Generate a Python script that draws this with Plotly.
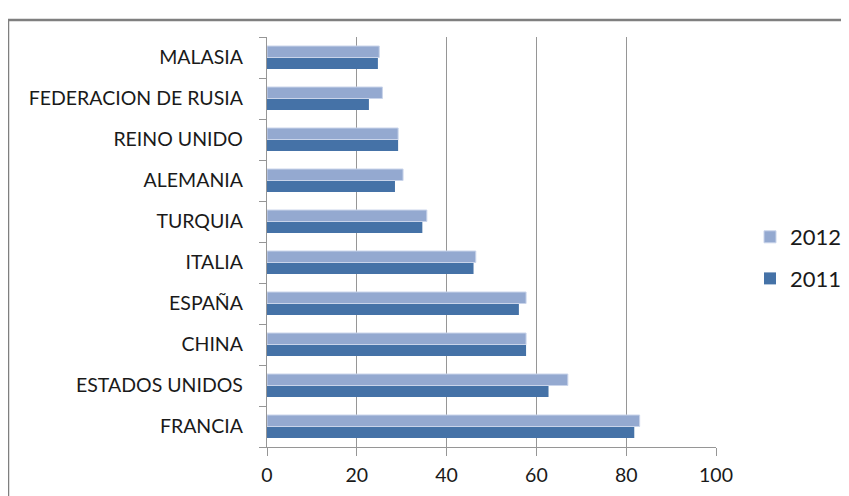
import plotly.graph_objects as go

categories = ["FRANCIA", "ESTADOS UNIDOS", "CHINA", "ESPAÑA", "ITALIA",
              "TURQUIA", "ALEMANIA", "REINO UNIDO", "FEDERACION DE RUSIA", "MALASIA"]
values_2011 = [81.8, 62.7, 57.7, 56.1, 46.0, 34.6, 28.5, 29.2, 22.7, 24.7]
values_2012 = [83.0, 67.0, 57.7, 57.7, 46.5, 35.6, 30.3, 29.2, 25.7, 25.0]
x_ticks = [0, 20, 40, 60, 80, 100]

FONT = "Lato"
GRID = "#969696"
TXT = "#1a1a1a"

# page body has an 8px default margin; work in page coords and offset
OFF = 8
FW, FH = 849 - OFF, 496 - OFF

fig = go.Figure()
fig.add_trace(go.Bar(y=categories, x=values_2011, orientation="h", name="2011",
                     legendrank=2, legendgroup="g2011",
                     marker=dict(color="#4572A7", line=dict(width=0))))
fig.add_trace(go.Bar(y=categories, x=values_2012, orientation="h", name="2012",
                     legendrank=1, legendgroup="g2012",
                     marker=dict(color="#94A9D0", line=dict(color="#C9D4EA", width=1))))

L, T = 267, 37
W, H = 449, 410
def px(x):
    return (x - L) / W
def py(y):
    return (T + H - y) / H

fig.update_layout(
    width=FW, height=FH,
    margin=dict(l=L - OFF, r=849 - L - W, t=T - OFF, b=496 - T - H),
    paper_bgcolor="white", plot_bgcolor="white",
    barmode="group", bargap=0.44, bargroupgap=0,
    font=dict(family=FONT, size=19, color=TXT),
    showlegend=True,
    legend=dict(traceorder="grouped", tracegroupgap=10,
                xref="container", yref="container",
                x=(750 - OFF) / FW, xanchor="left",
                y=1 - (258 - OFF) / FH, yanchor="middle",
                font=dict(family=FONT, size=22, color=TXT),
                itemwidth=30, bgcolor="rgba(0,0,0,0)"),
    xaxis=dict(range=[0, 100], tickvals=x_ticks, showgrid=True, gridcolor=GRID,
               gridwidth=1.3, showline=True, linecolor=GRID, linewidth=1.3,
               ticks="outside", ticklen=8, tickcolor=GRID, tickwidth=1.3,
               zeroline=False, ticklabelstandoff=2, automargin=False,
               tickfont=dict(family=FONT, size=19.5, color=TXT)),
    yaxis=dict(showline=True, linecolor=GRID, linewidth=1.3, ticks="outside",
               tickson="boundaries", ticklen=7, tickcolor=GRID, tickwidth=1.3,
               showgrid=False, ticklabelstandoff=19, automargin=False,
               tickfont=dict(family=FONT, size=19.5, color=TXT)),
    shapes=[dict(type="rect", xref="paper", yref="paper",
                 x0=px(8), x1=px(870), y0=py(520), y1=py(20),
                 line=dict(color="#7F7F7F", width=2.5), fillcolor="rgba(0,0,0,0)",
                 layer="above")],
)

fig.write_html("out.html")
